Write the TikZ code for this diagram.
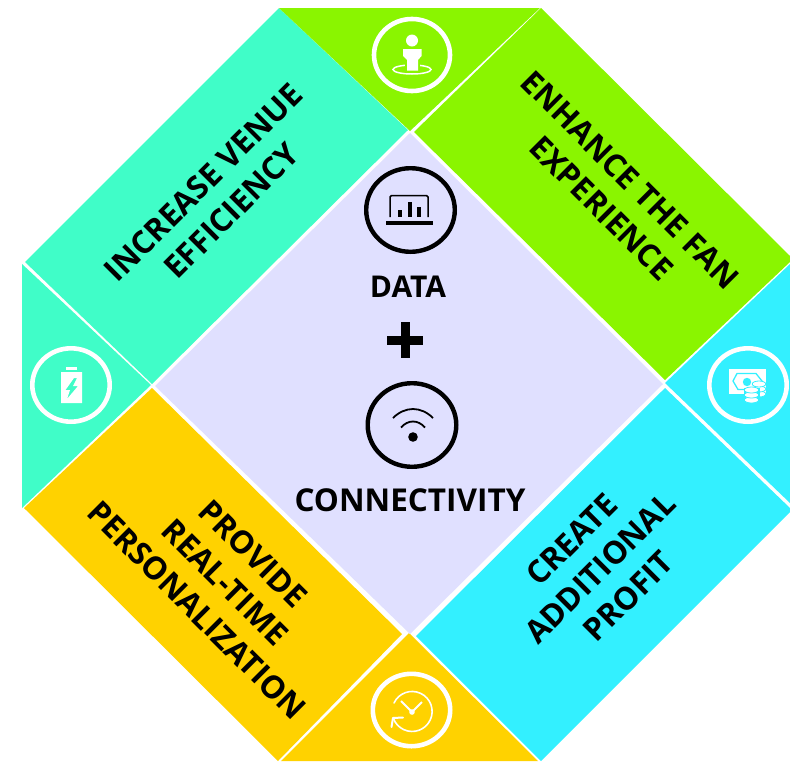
\documentclass[tikz,border=0pt]{standalone}
\usepackage{fontspec}
\setmainfont{Open Sans}
\definecolor{cteal}{HTML}{40FDC8}
\definecolor{cgreen}{HTML}{8AF500}
\definecolor{ccyan}{HTML}{33F0FF}
\definecolor{cyellow}{HTML}{FFD200}
\definecolor{clav}{HTML}{E0E0FF}
\tikzset{
  lab/.style={font=\fontsize{31.5}{40}\selectfont\bfseries,align=center,text=black,inner sep=0pt},
  ctr/.style={font=\fontsize{31.5}{36}\selectfont\bfseries,text=black,inner sep=0pt},
  wring/.style={draw=white,line width=4.6pt},
  kring/.style={draw=black,line width=4.4pt},
  wline/.style={draw=white,line width=1.6pt,line cap=round},
  coin/.style={fill=white,draw=ccyan,line width=0.8pt},
}
\begin{document}
\begin{tikzpicture}[x=1pt,y=-1pt]
\useasboundingbox (0,0) rectangle (790,761);
% panels
\fill[cteal] (279,8) -- (408,130) -- (152,384) -- (25,262) -- cycle;
\fill[cteal] (22,264) -- (151,385) -- (22,508) -- cycle;
\fill[cgreen] (279,8) -- (540,8) -- (410,131) -- cycle;
\fill[cgreen] (541,8) -- (790,256) -- (790,262) -- (665,380) -- (414,132) -- cycle;
\fill[ccyan] (790,264) -- (790,503) -- (665,383) -- cycle;
\fill[ccyan] (790,508) -- (790,512) -- (541,761) -- (416,636) -- (665,388) -- cycle;
\fill[cyellow] (24,508) -- (152,388) -- (402,634) -- (278,761) -- cycle;
\fill[cyellow] (281,761) -- (409,633) -- (538,761) -- cycle;
\fill[clav] (410,133) -- (663,384) -- (410,634) -- (155,386) -- cycle;
% labels
\node[lab,rotate=45] (t1) at (217.5,196.5) {INCREASE VENUE\\EFFICIENCY};
\node[lab,rotate=-45] (t2) at (616,194) {ENHANCE THE FAN\\EXPERIENCE};
\node[lab,rotate=45] (t3) at (600,568) {CREATE\\ADDITIONAL\\PROFIT};
\node[lab,rotate=-45] (t4) at (225,582) {PROVIDE\\REAL-TIME\\PERSONALIZATION};
\node[ctr,font=\fontsize{30}{36}\selectfont\bfseries] (data) at (408,287) {DATA};
\node[ctr] (conn) at (410,500) {CONNECTIVITY};
% plus
\fill[black] (387,336) rectangle (423,344.5);
\fill[black] (401,322) rectangle (409.5,358);
% rings
\draw[wring] (412,55) ellipse (38 and 36);
\draw[wring] (71,385) ellipse (38.7 and 36.7);
\draw[wring] (748,385) ellipse (38.7 and 36.7);
\draw[wring] (411.5,710) ellipse (38.7 and 36.2);
\draw[kring] (410.5,210) ellipse (44.3 and 41.8);
\draw[kring] (412,425) ellipse (44.3 and 41.8);
% person icon
\fill[white] (412,40.5) circle (6);
\draw[white,line width=1.5pt] (412,69.5) ellipse (19 and 4.5);
\fill[cgreen] (405,60) rectangle (420,73);
\fill[white] (403,49) -- (421.5,49) -- (421.5,56) -- (418,60) -- (418,70.5) -- (407,70.5) -- (407,60) -- (403,56) -- cycle;
% laptop icon
\draw[black,line width=1.5pt,rounded corners=1.5pt] (390,217) -- (390,195.5) -- (428,195.5) -- (428,217);
\fill[black] (386,221) rectangle (433,225);
\fill[black] (398,210) rectangle (402,217);
\fill[black] (408,202) rectangle (412,217);
\fill[black] (417,207) rectangle (421,217);
% wifi icon
\fill[black] (413,437) circle (4.8);
\draw[black,line width=1.8pt] (393,418) .. controls (405,406) and (421,406) .. (433,418);
\draw[black,line width=1.8pt] (401,427.5) .. controls (408,419.5) and (418,419.5) .. (425,427.5);
% battery icon
\fill[white] (66,366.5) rectangle (77,369.5);
\fill[white,even odd rule] (61,372) rectangle (82,403)
  (74,378) -- (65.5,390) -- (70,390) -- (67,399) -- (78,386) -- (73,386) -- (77,378) -- cycle;
% money icon
\fill[white] (729,369) rectangle (766,394);
\draw[ccyan,line width=1.3pt] (737,373.5) -- (756,373.5) -- (762,381) -- (757,389.5) -- (738,389.5) -- (733,381) -- cycle;
\fill[ccyan] (747,382) circle (4.2);
\foreach \yy in {394,389,384}{\draw[coin] (759,\yy) ellipse (6.8 and 3);}
\fill[ccyan] (744,388) rectangle (759.5,405);
\foreach \yy in {400,395,390}{\draw[coin] (751.5,\yy) ellipse (7.2 and 3);}
% clock icon
\draw[wline] (394,703) arc[start angle=-155,end angle=160,radius=20];
\draw[wline,line width=2pt] (393,718) -- (391.5,727);
\draw[wline,line width=2pt] (393,718) -- (403,717.5);
\fill[white] (412,712) circle (2.8);
\draw[white,line width=1.8pt] (401,701) -- (412,712) -- (422,702);
\end{tikzpicture}
\end{document}
